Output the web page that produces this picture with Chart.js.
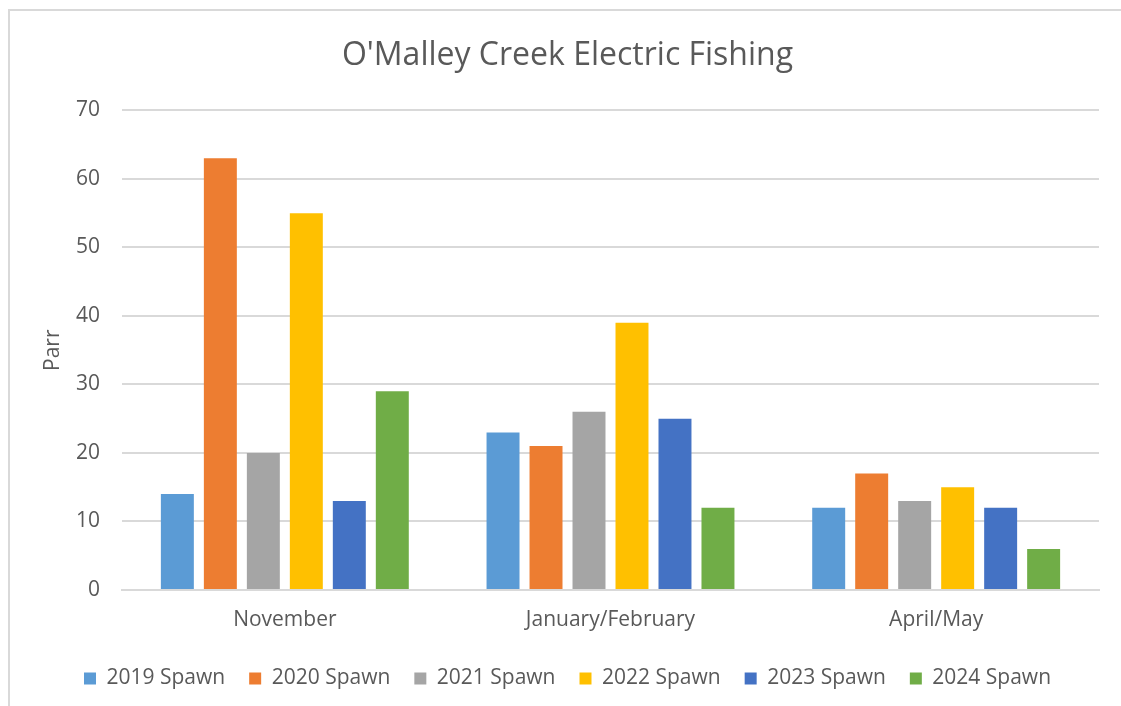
<!DOCTYPE html>
<html>
<head>
<meta charset="utf-8">
<title>O'Malley Creek Electric Fishing</title>
<script src="https://cdn.jsdelivr.net/npm/chart.js@4/dist/chart.umd.min.js"></script>
<style>
    html, body { margin: 0; padding: 0; background: #fff; overflow: hidden; }
    #frame {
        position: absolute; left: 8px; top: 9px;
        width: 1200px; height: 800px;
        border: 2px solid #d9d9d9;
    }
    #parrChart { position: absolute; left: 0; top: 0; }
</style>
</head>
<body>
<div id="frame"></div>
<canvas id="parrChart" width="1121" height="706"></canvas>
<script>
// Survey periods and parr counts per spawn year
const periods = ['November', 'January/February', 'April/May'];
const spawnYears = ['2019 Spawn', '2020 Spawn', '2021 Spawn', '2022 Spawn', '2023 Spawn', '2024 Spawn'];
const spawn2019 = [14, 23, 12];
const spawn2020 = [63, 21, 17];
const spawn2021 = [20, 26, 13];
const spawn2022 = [55, 39, 15];
const spawn2023 = [13, 25, 12];
const spawn2024 = [29, 12, 6];
const yTicks = [0, 10, 20, 30, 40, 50, 60, 70];

const seriesValues = [spawn2019, spawn2020, spawn2021, spawn2022, spawn2023, spawn2024];
const seriesColors = ['#5b9bd5', '#ed7d31', '#a5a5a5', '#ffc000', '#4472c4', '#70ad47'];

const textColor = '#595959';
const gridColor = '#d9d9d9';
const fontFamily = '"Open Sans", sans-serif';

const ctx = document.getElementById('parrChart');

new Chart(ctx, {
    type: 'bar',
    data: {
        labels: periods,
        datasets: spawnYears.map((name, i) => ({
            label: name,
            data: seriesValues[i],
            backgroundColor: seriesColors[i],
            borderWidth: 0,
            categoryPercentage: 0.792,
            barPercentage: 0.767
        }))
    },
    options: {
        responsive: false,
        animation: false,
        layout: {
            padding: { left: 36, right: 22, top: 0, bottom: 7 }
        },
        plugins: {
            title: {
                display: true,
                text: "O'Malley Creek Electric Fishing",
                color: textColor,
                font: { family: fontFamily, size: 32, weight: 'normal' },
                padding: { top: 37, bottom: 35 }
            },
            legend: {
                position: 'bottom',
                labels: {
                    color: textColor,
                    font: { family: fontFamily, size: 21 },
                    boxWidth: 12,
                    boxHeight: 12,
                    padding: 24
                }
            },
            tooltip: { enabled: false }
        },
        scales: {
            x: {
                grid: { display: false, drawTicks: false },
                border: { display: true, color: gridColor, width: 2 },
                ticks: {
                    color: textColor,
                    font: { family: fontFamily, size: 21 },
                    padding: 17
                },
                afterFit: function(scale) {
                    scale.height = 54;
                }
            },
            y: {
                min: 0,
                max: 70,
                afterBuildTicks: function(scale) {
                    scale.ticks = yTicks.map(v => ({ value: v }));
                },
                grid: { color: gridColor, lineWidth: 2, drawTicks: false },
                border: { display: false },
                ticks: {
                    color: textColor,
                    font: { family: fontFamily, size: 21 },
                    padding: 22
                },
                title: {
                    display: true,
                    text: 'Parr',
                    color: textColor,
                    font: { family: fontFamily, size: 21 },
                    padding: { top: 4, bottom: 4 }
                },
                afterFit: function(scale) {
                    scale.width = 86;
                }
            }
        }
    }
});
</script>
</body>
</html>
